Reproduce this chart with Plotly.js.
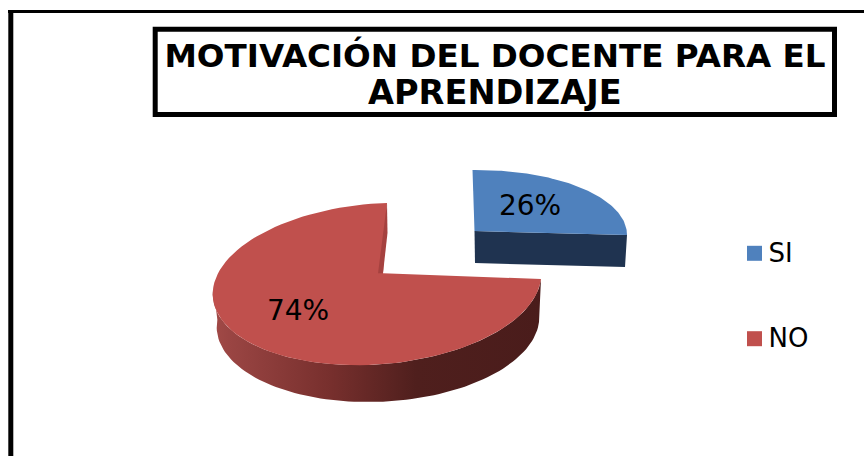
<!DOCTYPE html>
<html>
<head>
<meta charset="utf-8">
<script src="https://cdn.plot.ly/plotly-3.0.1.min.js"></script>
<style>html,body{margin:0;padding:0;background:#fff}#c{width:864px;height:456px}</style>
</head>
<body>
<div id="c"></div>
<script>
// Data
const categories = ['SI', 'NO'];
const values = [26, 74];
const titleLine1 = 'MOTIVACIÓN DEL DOCENTE PARA EL';
const titleLine2 = 'APRENDIZAJE';

// Colours
const topColors = ['#4f81bd', '#c0504d'];
const wallColor = '#1f3350';
const sliverColor = '#a5413f';

// Projection of each exploded slice on the page (pixels on the hidden axes)
const ellipses = [
  {cx: 472, cy: 237, rx: 155, ry: 67, skx: 0.5, sky: 2},
  {cx: 377, cy: 284, rx: 164, ry: 81, skx: 10, sky: 5}
];
const apexes = [[474.5, 231], [383, 273.3]];
const redFloor = {cx: 378, cy: 322, rx: 161, ry: 80, skx: 10, sky: 0};
const labelPos = [[530, 208], [298, 313]];
const legendPos = [[754.5, 253.3], [754.5, 338.7]];
const legendTextX = 768.5;
const legendTextDy = 2;

const rad = d => d * Math.PI / 180;
const foreshorten = a => a - 3.6 * Math.sin(rad(a));
function onEllipse(e, a) {
  const t = rad(foreshorten(a));
  return [e.cx + e.rx * Math.sin(t) + e.skx * Math.cos(t),
          e.cy - e.ry * Math.cos(t) - e.sky * Math.sin(t)];
}
function arc(e, a0, a1) {
  const pts = [], n = 90;
  for (let i = 0; i <= n; i++) pts.push(onEllipse(e, a0 + (a1 - a0) * i / n));
  return pts;
}
function poly(pts, color, extra) {
  const closed = pts.concat([pts[0]]);
  return Object.assign({
    type: 'scatter', mode: 'lines', x: closed.map(p => p[0]), y: closed.map(p => p[1]),
    fill: 'toself', fillcolor: color, line: {width: 0, color: color},
    hoverinfo: 'skip', showlegend: false
  }, extra || {});
}

// Slice angles come from the values
const total = values.reduce((s, v) => s + v, 0);
const sweepBlue = 360 * values[0] / total;

// Red wall (outer rim seen from above)
const leftEnd = 268;
const redTopRim = arc(ellipses[1], sweepBlue, leftEnd);
const redFloorRim = arc(redFloor, sweepBlue, leftEnd).reverse();
const redWall = poly(redTopRim.concat(redFloorRim), '#7a2f2d', {
  fillgradient: {type: 'horizontal', colorscale: [
    [0, '#a24a47'], [0.05, '#9a4543'], [0.36, '#772f2d'], [0.62, '#4f1f1d'], [1, '#4a1c1b']
  ]}
});

// Red top face
const redTop = poly([apexes[1]].concat(arc(ellipses[1], sweepBlue, 360)), topColors[1]);

// Red inner cut wall, visible in the gap
const redTopEnd = onEllipse(ellipses[1], 360);
const redCut = poly([redTopEnd, [redTopEnd[0] + 0.5, redTopEnd[1] + 30], apexes[1],
  [apexes[1][0] - 5, apexes[1][1]]], sliverColor);

// Blue wall and top face
const blueArc = arc(ellipses[0], 0, sweepBlue);
const blueEnd = blueArc[blueArc.length - 1];
const blueWall = poly([apexes[0], blueEnd, [blueEnd[0] - 2, blueEnd[1] + 32],
  [apexes[0][0] + 0.5, apexes[0][1] + 32]], wallColor);
const blueTop = poly([apexes[0]].concat(blueArc), topColors[0]);

// Percentage labels
const pctLabels = {
  type: 'scatter', mode: 'text',
  x: labelPos.map(p => p[0]), y: labelPos.map(p => p[1]),
  text: values.map(v => v + '%'), textposition: 'middle center',
  textfont: {family: 'DejaVu Sans', size: 28, color: '#000'},
  hoverinfo: 'skip', showlegend: false
};

// Legend keys and names
const legendKeys = {
  type: 'scatter', mode: 'markers',
  x: legendPos.map(p => p[0]), y: legendPos.map(p => p[1]),
  marker: {symbol: 'square', size: 15, color: topColors, line: {width: 0}},
  hoverinfo: 'skip', showlegend: false
};
const legendNames = {
  type: 'scatter', mode: 'text',
  x: legendPos.map(() => legendTextX), y: legendPos.map(p => p[1] + legendTextDy),
  text: categories, textposition: 'middle right',
  textfont: {family: 'DejaVu Sans', size: 26, color: '#000'},
  hoverinfo: 'skip', showlegend: false
};

const traces = [redWall, redTop, redCut, blueWall, blueTop, pctLabels, legendKeys, legendNames];

const titleFont = {family: 'DejaVu Sans', size: 32.6, color: '#000', weight: 'bold'};
const titleFont2 = {family: 'DejaVu Sans', size: 33.6, color: '#000', weight: 'bold'};

const layout = {
  width: 864, height: 456,
  margin: {l: 0, r: 0, t: 0, b: 0},
  paper_bgcolor: '#fff', plot_bgcolor: '#fff',
  showlegend: false,
  title: {
    text: titleLine1,
    font: titleFont,
    x: 495 / 864, xanchor: 'center', xref: 'paper',
    y: 1 - 56 / 456, yanchor: 'middle', yref: 'container'
  },
  annotations: [{
    text: titleLine2, font: titleFont2, showarrow: false,
    xref: 'x', yref: 'y', x: 495, y: 92, xanchor: 'center', yanchor: 'middle'
  }],
  xaxis: {range: [0, 864], visible: false, fixedrange: true},
  yaxis: {range: [456, 0], visible: false, fixedrange: true},
  shapes: [
    {type: 'line', xref: 'x', yref: 'y', x0: 10.8, x1: 10.8, y0: 10, y1: 456, line: {color: '#000', width: 5}},
    {type: 'line', xref: 'x', yref: 'y', x0: 8, x1: 864, y0: 11.4, y1: 11.4, line: {color: '#000', width: 3}},
    {type: 'rect', xref: 'x', yref: 'y', x0: 155.2, x1: 834.5, y0: 29.2, y1: 114.5, line: {color: '#000', width: 5}, layer: 'below'}
  ]
};

Plotly.newPlot('c', traces, layout, {displayModeBar: false, staticPlot: true});
</script>
</body>
</html>
